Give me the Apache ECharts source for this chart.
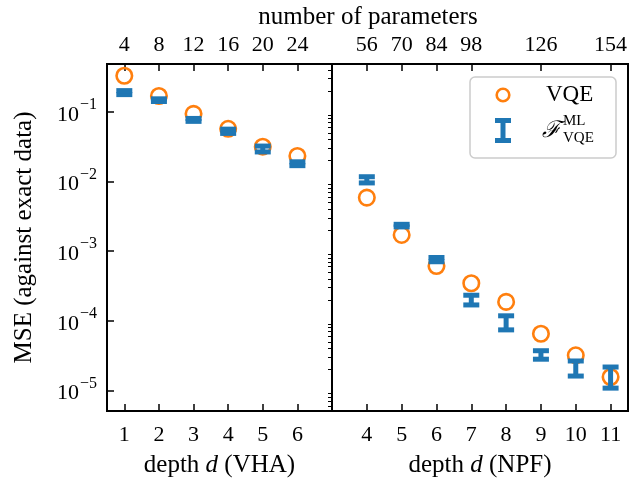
<!DOCTYPE html>
<html>
<head>
<meta charset="utf-8">
<script src="https://cdn.jsdelivr.net/npm/echarts@6/dist/echarts.min.js"></script>
<style>
  html, body { margin: 0; padding: 0; background: #fff; }
  #chart { width: 642px; height: 483px; }
</style>
</head>
<body>
<div id="chart"></div>
<script>
// VHA panel (left)
const vhaDepth = [1, 2, 3, 4, 5, 6];
const vhaVqe = [0.33, 0.169, 0.0937, 0.0572, 0.0316, 0.0233];
const vhaMlLow = [0.177, 0.141, 0.0731, 0.0491, 0.0266, 0.0169];
const vhaMlHigh = [0.202, 0.154, 0.0805, 0.0565, 0.0323, 0.0192];

// NPF panel (right)
const npfDepth = [4, 5, 6, 7, 8, 9, 10, 11];
const npfVqe = [0.00588, 0.00171, 0.000612, 0.000346, 0.000187, 0.0000652, 0.000032, 0.0000156];
const npfMlLow = [0.00955, 0.00223, 0.000705, 0.000169, 0.0000741, 0.0000281, 0.0000161, 0.0000108];
const npfMlHigh = [0.01172, 0.00243, 0.000811, 0.000233, 0.000118, 0.0000372, 0.0000265, 0.0000217];

// top axis: number of parameters
const vhaParamDepth = [1, 2, 3, 4, 5, 6];
const vhaParamLabels = [4, 8, 12, 16, 20, 24];
const npfParamDepth = [4, 5, 6, 7, 9, 11];
const npfParamLabels = [56, 70, 84, 98, 126, 154];

const yMajor = [1e-5, 1e-4, 1e-3, 1e-2, 1e-1];
const yMin = 5.07e-6;
const yMax = 0.487;

const ORANGE = "#ff7f0e";
const BLUE = "#1f77b4";
const FONT = "'Liberation Serif', 'DejaVu Serif', serif";
const NAME_SIZE = 25;

const yMinor = [];
for (let e = -6; e <= -1; e++) {
  for (let m = 2; m <= 9; m++) {
    const v = m * Math.pow(10, e);
    if (v > yMin && v < yMax) yMinor.push(v);
  }
}

const gLeft = 107, gMid = 332, gRight = 628, gTop = 64, gBottom = 419;

function errorBarItem(params, api) {
  const x = api.value(0);
  const lo = api.coord([x, api.value(1)]);
  const hi = api.coord([x, api.value(2)]);
  const half = 8;
  const style = { stroke: BLUE, lineWidth: 5, fill: null };
  return {
    type: "group",
    children: [
      { type: "line", shape: { x1: lo[0], y1: lo[1], x2: hi[0], y2: hi[1] }, style },
      { type: "line", shape: { x1: lo[0] - half, y1: lo[1], x2: lo[0] + half, y2: lo[1] }, style },
      { type: "line", shape: { x1: hi[0] - half, y1: hi[1], x2: hi[0] + half, y2: hi[1] }, style },
    ],
  };
}

const tickStyle = { inside: true, length: 7, lineStyle: { color: "#000", width: 1.5 } };
const labelStyle = { color: "#000", fontFamily: FONT, fontSize: 22 };
const nameRich = {
  n: { fontFamily: FONT, fontSize: NAME_SIZE, color: "#000" },
  i: { fontFamily: FONT, fontSize: NAME_SIZE, fontStyle: "italic", color: "#000" },
};

function bottomAxis(gridIndex, min, max, ticks, name) {
  return {
    type: "value", gridIndex, position: "bottom", min, max,
    axisLine: { show: false },
    splitLine: { show: false },
    axisTick: Object.assign({ customValues: ticks }, tickStyle),
    axisLabel: Object.assign({ customValues: ticks, margin: 13 }, labelStyle),
    name, nameLocation: "middle", nameGap: 42,
    nameTextStyle: { rich: nameRich },
  };
}

function topAxis(gridIndex, min, max, ticks, labels) {
  return {
    type: "value", gridIndex, position: "top", min, max,
    axisLine: { show: false },
    splitLine: { show: false },
    axisTick: Object.assign({ customValues: ticks }, tickStyle),
    axisLabel: Object.assign({
      customValues: ticks, margin: 8,
      formatter: (v) => String(labels[ticks.indexOf(Math.round(v))]),
    }, labelStyle),
  };
}

const chart = echarts.init(document.getElementById("chart"), null, { renderer: "canvas" });

chart.setOption({
  animation: false,
  backgroundColor: "#fff",
  grid: [
    { left: gLeft, top: gTop, width: gMid - gLeft, height: gBottom - gTop, show: true, borderColor: "#000", borderWidth: 2, backgroundColor: "transparent" },
    { left: gMid, top: gTop, width: gRight - gMid, height: gBottom - gTop, show: true, borderColor: "#000", borderWidth: 2, backgroundColor: "transparent" },
  ],
  xAxis: [
    bottomAxis(0, 0.5, 7, vhaDepth, "{n|depth }{i|d}{n| (VHA)}"),
    bottomAxis(1, 3, 11.5, npfDepth, "{n|depth }{i|d}{n| (NPF)}"),
    topAxis(0, 0.5, 7, vhaParamDepth, vhaParamLabels),
    topAxis(1, 3, 11.5, npfParamDepth, npfParamLabels),
  ],
  yAxis: [
    {
      type: "log", logBase: 10, gridIndex: 0, min: yMin, max: yMax,
      axisLine: { show: false },
      splitLine: { show: false },
      minorTick: { show: false },
      axisTick: Object.assign({ customValues: yMajor }, tickStyle),
      axisLabel: {
        customValues: yMajor, margin: 10,
        formatter: (v) => "{b|10}{s|\u2212" + Math.round(-Math.log10(v)) + "}",
        rich: {
          b: { fontFamily: FONT, fontSize: 22, lineHeight: 30, verticalAlign: "middle", color: "#000", padding: [6, 1, 0, 0] },
          s: { fontFamily: FONT, fontSize: 16, lineHeight: 16, verticalAlign: "top", color: "#000" },
        },
      },
      name: "MSE (against exact data)", nameLocation: "middle", nameGap: 70, nameRotate: 90,
      nameTextStyle: { fontFamily: FONT, fontSize: NAME_SIZE, color: "#000" },
    },
    {
      type: "log", logBase: 10, gridIndex: 0, min: yMin, max: yMax,
      axisLine: { show: false },
      splitLine: { show: false },
      axisTick: { customValues: yMinor, inside: true, length: 4, lineStyle: { color: "#000", width: 1 } },
      axisLabel: { show: false },
    },
    {
      type: "log", logBase: 10, gridIndex: 1, min: yMin, max: yMax,
      axisLine: { show: false }, axisTick: { show: false }, axisLabel: { show: false },
      splitLine: { show: false },
    },
  ],
  series: [
    {
      name: "VQE", type: "scatter", xAxisIndex: 0, yAxisIndex: 0,
      data: vhaDepth.map((d, i) => [d, vhaVqe[i]]),
      symbol: "circle", symbolSize: 15.5, z: 2,
      itemStyle: { color: "transparent", borderColor: ORANGE, borderWidth: 2.6, opacity: 1 },
    },
    {
      name: "VQE", type: "scatter", xAxisIndex: 1, yAxisIndex: 2,
      data: npfDepth.map((d, i) => [d, npfVqe[i]]),
      symbol: "circle", symbolSize: 15.5, z: 2,
      itemStyle: { color: "transparent", borderColor: ORANGE, borderWidth: 2.6, opacity: 1 },
    },
    {
      name: "ML", type: "custom", xAxisIndex: 0, yAxisIndex: 0, z: 3,
      renderItem: errorBarItem,
      encode: { x: 0, y: [1, 2] },
      data: vhaDepth.map((d, i) => [d, vhaMlLow[i], vhaMlHigh[i]]),
    },
    {
      name: "ML", type: "custom", xAxisIndex: 1, yAxisIndex: 2, z: 3,
      renderItem: errorBarItem,
      encode: { x: 0, y: [1, 2] },
      data: npfDepth.map((d, i) => [d, npfMlLow[i], npfMlHigh[i]]),
    },
  ],
  graphic: [
    {
      type: "text", x: 368, y: 17,
      style: { text: "number of parameters", font: NAME_SIZE + "px " + FONT, fill: "#000", align: "center", verticalAlign: "middle" },
    },
    {
      type: "group", x: 470, y: 77,
      children: [
        { type: "rect", shape: { x: 0, y: 0, width: 146, height: 81, r: 5 }, style: { fill: "rgba(255,255,255,0.85)", stroke: "#cccccc", lineWidth: 1.5 } },
        { type: "circle", shape: { cx: 33, cy: 18, r: 6.3 }, style: { fill: null, stroke: ORANGE, lineWidth: 2.6 } },
        { type: "line", shape: { x1: 33, y1: 42, x2: 33, y2: 65 }, style: { stroke: BLUE, lineWidth: 5 } },
        { type: "line", shape: { x1: 25, y1: 43.5, x2: 41, y2: 43.5 }, style: { stroke: BLUE, lineWidth: 5 } },
        { type: "line", shape: { x1: 25, y1: 63.5, x2: 41, y2: 63.5 }, style: { stroke: BLUE, lineWidth: 5 } },
        { type: "text", x: 76, y: 18, style: { text: "VQE", font: "23px " + FONT, fill: "#000", verticalAlign: "middle" } },
        { type: "text", x: 72, y: 54, style: { text: "\u2131", font: "italic 23px " + FONT, fill: "#000", verticalAlign: "middle" } },
        { type: "text", x: 93, y: 44, style: { text: "ML", font: "15px " + FONT, fill: "#000", verticalAlign: "middle" } },
        { type: "text", x: 93, y: 61, style: { text: "VQE", font: "15px " + FONT, fill: "#000", verticalAlign: "middle" } },
      ],
    },
  ],
});
</script>
</body>
</html>
